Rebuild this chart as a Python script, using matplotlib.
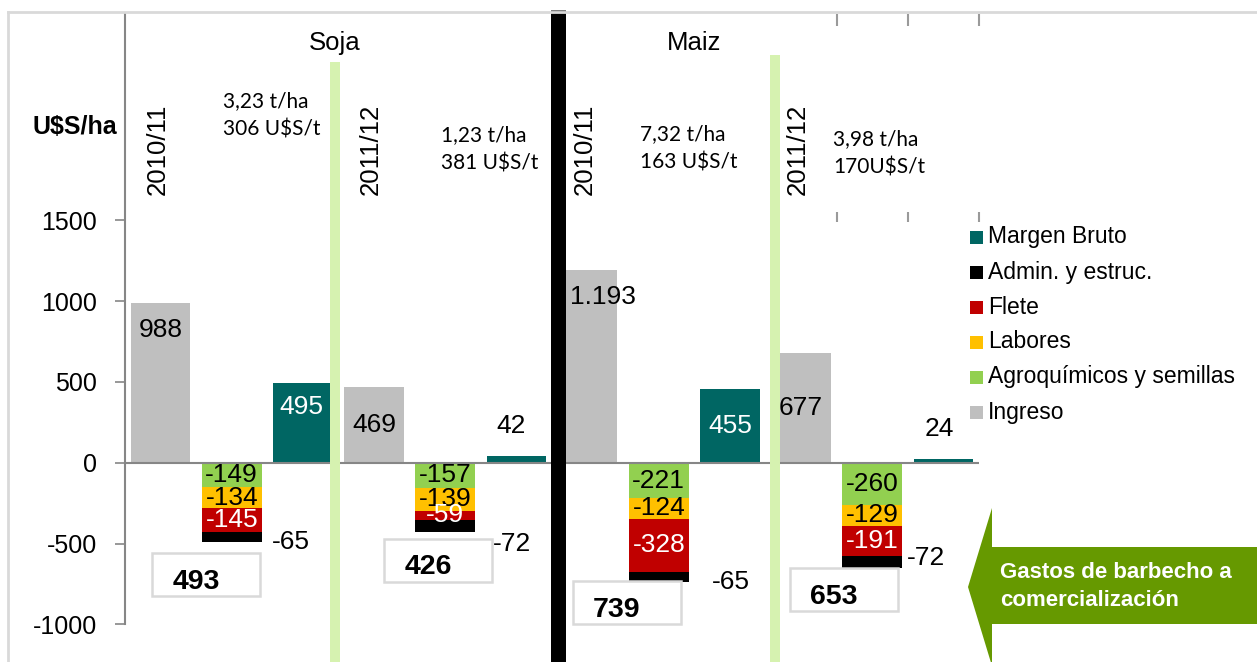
import matplotlib
matplotlib.use('Agg')
import matplotlib.pyplot as plt
from matplotlib.patches import Rectangle, Polygon
from matplotlib.lines import Line2D

plt.rcParams['font.family'] = ['Liberation Sans', 'DejaVu Sans']

# ---------------- data ----------------
cultivos = ['Soja', 'Maiz']
campanias = ['2010/11', '2011/12', '2010/11', '2011/12']
rendimiento = ['3,23 t/ha', '1,23 t/ha', '7,32 t/ha', '3,98 t/ha']
precio = ['306 U$S/t', '381 U$S/t', '163 U$S/t', '170U$S/t']
ingreso = [988, 469, 1193, 677]
agroquimicos = [-149, -157, -221, -260]
labores = [-134, -139, -124, -129]
flete = [-145, -59, -328, -191]
admin = [-65, -72, -65, -72]
margen = [495, 42, 455, 24]
gastos_totales = [493, 426, 739, 653]
y_ticks = [-1000, -500, 0, 500, 1000, 1500]
serie_nombres = ['Margen Bruto', 'Admin. y estruc.', 'Flete', 'Labores',
                 'Agroquímicos y semillas', 'Ingreso']

# ---------------- style ----------------
C_ING = '#bfbfbf'
C_AGRO = '#92d050'
C_LAB = '#ffc000'
C_FLE = '#c00000'
C_ADM = '#000000'
C_MB = '#006663'
serie_colores = [C_MB, C_ADM, C_FLE, C_LAB, C_AGRO, C_ING]
AXC = '#868686'

W, H = 1257, 662
fig = plt.figure(figsize=(W / 100, H / 100), dpi=100)


def fx(px):
    return px / W


def fy(py):
    return 1 - py / H


ax = fig.add_axes([fx(125), 0, (979 - 125) / W, (662 - 14) / H])
YMIN, YMAX = -1233, 2777
ax.set_xlim(-0.5, 11.5)
ax.set_ylim(YMIN, YMAX)
PX_Y = (YMAX - YMIN) / 648.0   # data units per pixel (y)
PX_X = 12.0 / (979 - 125)      # data units per pixel (x)

BW = 0.84
n = len(ingreso)
pos_ing = [3 * g for g in range(n)]
pos_cost = [3 * g + 1 for g in range(n)]
pos_mb = [3 * g + 2 for g in range(n)]

# bars
ax.bar(pos_ing, ingreso, width=BW, color=C_ING, zorder=2)
ax.bar(pos_mb, margen, width=BW, color=C_MB, zorder=2)
bottom = [0] * n
stack = [(agroquimicos, C_AGRO, 'black'), (labores, C_LAB, 'black'),
         (flete, C_FLE, 'white'), (admin, C_ADM, None)]
for vals, col, tcol in stack:
    ax.bar(pos_cost, vals, width=BW, bottom=bottom, color=col, zorder=2)
    for i in range(n):
        if tcol is not None:
            ax.text(pos_cost[i], bottom[i] + vals[i] / 2, f'{vals[i]}',
                    ha='center', va='center', fontsize=19, color=tcol, zorder=4)
    bottom = [b + v for b, v in zip(bottom, vals)]


def fmt(v):
    return f'{v:,}'.replace(',', '.')


# ingreso labels
ing_mode = ['end', 'center', 'end', 'center']
ing_dx = [0, 0, 0.22, 0]
for i in range(n):
    y = ingreso[i] - 27 * PX_Y if ing_mode[i] == 'end' else ingreso[i] / 2
    ax.text(pos_ing[i] + ing_dx[i], y, fmt(ingreso[i]), ha='center', va='center',
            fontsize=19, color='black', zorder=7)

# margen labels
mb_mode = ['end', 'out', 'center', 'out']
mb_dx = [-0.02, -0.08, 0, -0.06]
for i in range(n):
    if mb_mode[i] == 'end':
        y, c = margen[i] - 24 * PX_Y, 'white'
    elif mb_mode[i] == 'center':
        y, c = margen[i] / 2, 'white'
    else:
        y, c = margen[i] + 30 * PX_Y, 'black'
    ax.text(pos_mb[i] + mb_dx[i], y, fmt(margen[i]), ha='center', va='center',
            fontsize=19, color=c, zorder=4)

# admin labels outside
adm_dx_px = [40, 48, 53, 35]
adm_dy_px = [0, -12, 0, 10]
for i in range(n):
    ax.text(pos_cost[i] + adm_dx_px[i] * PX_X, bottom[i] + adm_dy_px[i] * PX_Y,
            f'{admin[i]}', ha='left', va='center', fontsize=19, color='black', zorder=4)

# total boxes
box_dx = [-0.36, -0.10, -0.45, -0.40]
box_gap_px = [10.6, 7, -1, 0]
bw_box = 108 * PX_X
bh_box = 43 * PX_Y
for i in range(n):
    cx = pos_cost[i] + box_dx[i]
    top = bottom[i] - box_gap_px[i] * PX_Y
    left = cx - bw_box / 2
    ax.add_patch(Rectangle((left, top - bh_box), bw_box, bh_box, facecolor='white',
                           edgecolor='#d9d9d9', lw=1.8, zorder=5))
    ax.text(left + 44 * PX_X, top - bh_box / 2 - 7 * PX_Y, f'{gastos_totales[i]}',
            ha='center', va='center', fontsize=20.5, fontweight='bold', zorder=6)

# zero line
ax.axhline(0, color=AXC, lw=1.5, zorder=3)

# axes styling
for s in ['top', 'right', 'bottom']:
    ax.spines[s].set_visible(False)
ax.spines['left'].set_color(AXC)
ax.spines['left'].set_linewidth(1.5)
ax.spines['left'].set_bounds(-1000, YMAX)
ax.set_yticks(y_ticks)
ax.set_yticklabels([str(t) for t in y_ticks])
ax.tick_params(axis='y', length=7, width=1.2, color=AXC, pad=13, labelsize=18)
ax.set_xticks([])
ax.patch.set_alpha(0)

# small residual tick marks at the top right
for xb in [9.5, 10.5, 11.5]:
    ax.plot([xb, xb], [YMAX, YMAX - 12 * PX_Y], color='#9a9a9a', lw=1.5,
            clip_on=False, zorder=3, solid_capstyle='butt')
    ax.plot([xb, xb], [(462.7 - 212) * PX_Y, (462.7 - 222) * PX_Y], color='#9a9a9a',
            lw=1.5, clip_on=False, zorder=3, solid_capstyle='butt')

# separators
ax.axvline(2.45, ymin=0, ymax=(662 - 62) / 648, color='#d6f2b0', lw=7.2, zorder=5,
           solid_capstyle='butt')
ax.axvline(8.63, ymin=0, ymax=(662 - 55) / 648, color='#d6f2b0', lw=7.2, zorder=5,
           solid_capstyle='butt')
ax.axvline(5.58, ymin=0, ymax=(662 - 10) / 648, color='black', lw=10.8, zorder=6,
           clip_on=False, solid_capstyle='butt')

# campaign labels (vertical)
for i in range(n):
    ax.text(pos_ing[i] - 0.04, (462.7 - 195) * PX_Y, campanias[i], rotation=90,
            ha='center', va='bottom', fontsize=18.5, zorder=4)

# yield / price text
rend_dx = [0.88, 0.94, 0.74, 0.45]
rend_y_px = [101, 135, 134, 139]
for i in range(n):
    x = pos_ing[i] + rend_dx[i]
    ax.text(x, (462.7 - rend_y_px[i]) * PX_Y, rendimiento[i], ha='left', va='center',
            fontsize=15, family=['Lato', 'DejaVu Sans'], zorder=4)
    ax.text(x, (462.7 - rend_y_px[i] - 28) * PX_Y, precio[i], ha='left', va='center',
            fontsize=15, family=['Lato', 'DejaVu Sans'], zorder=4)

# crop titles
titulo_x = [2.44, 7.50]
for c, xt in zip(cultivos, titulo_x):
    ax.text(xt, (462.7 - 43) * PX_Y, c, ha='center', va='center', fontsize=18.5)

# unit label
fig.text(fx(117), fy(127), 'U$S/ha', ha='right', va='center', fontsize=18,
         fontweight='bold')

# outer frame
fig.add_artist(Line2D([fx(8), fx(8)], [fy(12), 0], color='#d9d9d9', lw=2))
fig.add_artist(Line2D([fx(8), 1], [fy(12), fy(12)], color='#d9d9d9', lw=2))

# legend (manual)
for k, (nm, col) in enumerate(zip(serie_nombres, serie_colores)):
    yc = 237 + 35 * k
    fig.add_artist(Rectangle((fx(970), fy(yc + 6.5)), 13 / W, 13 / H,
                             facecolor=col, edgecolor='none', transform=fig.transFigure))
    fig.text(fx(988), fy(yc), nm, ha='left', va='center', fontsize=16.5)

# arrow
arrow_pts = [(968, 587), (992, 508), (992, 547), (1257, 547), (1257, 624),
             (992, 624), (992, 666)]
fig.add_artist(Polygon([(fx(x), fy(y)) for x, y in arrow_pts], closed=True,
                       facecolor='#669900', edgecolor='none', transform=fig.transFigure))
fig.text(fx(1000), fy(572), 'Gastos de barbecho a', ha='left', va='center',
         fontsize=16, fontweight='bold', color='white')
fig.text(fx(1000), fy(600), 'comercialización', ha='left', va='center',
         fontsize=16, fontweight='bold', color='white')

fig.savefig('out.png', dpi=100)
